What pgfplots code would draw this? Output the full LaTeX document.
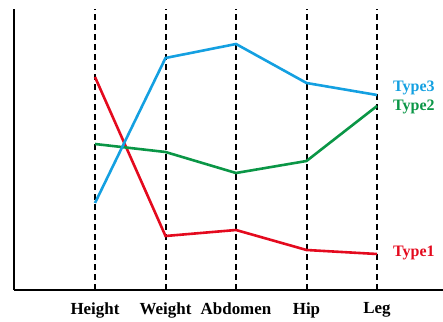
\documentclass[border=0pt]{standalone}
\usepackage{fontspec}
\setmainfont{Liberation Serif}
\usepackage{pgfplots}
\pgfplotsset{compat=1.18}
\definecolor{cred}{RGB}{228,10,30}
\definecolor{cgreen}{RGB}{10,150,70}
\definecolor{cblue}{RGB}{20,160,225}
\begin{document}
\begin{tikzpicture}
\begin{axis}[
  at={(14bp,32bp)}, anchor=south west,
  scale only axis, width=429bp, height=281bp,
  xmin=-1.149, xmax=4.936, ymin=0, ymax=281,
  axis lines=left,
  axis line style={-, line width=2.6bp, black},
  xtick={0,1,2,3,4},
  xticklabels={Height,Weight,Abdomen,Hip,Leg},
  ytick=\empty,
  major tick length=0pt,
  xmajorgrids,
  major grid style={black, line width=2bp, dash pattern=on 6bp off 4bp},
  ticklabel style={font=\bfseries\fontsize{17}{19}\selectfont},
  xticklabel style={yshift=-9bp},
  clip=false,
]
\addplot[cred, line width=2.6bp] coordinates {(0,213) (1,54) (2,60) (3,40) (4,36)};
\addplot[cgreen, line width=2.6bp] coordinates {(0,146) (1,138) (2,117) (3,129) (4,184)};
\addplot[cblue, line width=2.6bp] coordinates {(0,87) (1,232) (2,246) (3,207) (4,195)};
\node[anchor=west, cblue, font=\bfseries\fontsize{16}{18}\selectfont, inner sep=0pt] at (axis cs:4.227,202) {Type3};
\node[anchor=west, cgreen, font=\bfseries\fontsize{16}{18}\selectfont, inner sep=0pt] at (axis cs:4.227,183) {Type2};
\node[anchor=west, cred, font=\bfseries\fontsize{16}{18}\selectfont, inner sep=0pt] at (axis cs:4.227,37) {Type1};
\end{axis}
\pgfresetboundingbox
\path[use as bounding box] (0,0) rectangle (443bp,322bp);
\end{tikzpicture}
\end{document}
